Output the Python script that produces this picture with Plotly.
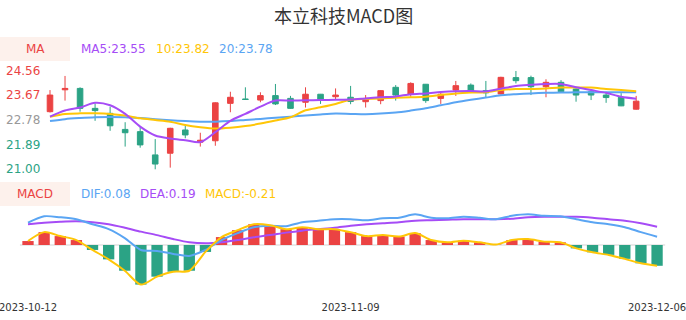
import plotly.graph_objects as go

# ---------------- data ----------------
dates = ["2023-10-12", "2023-10-13", "2023-10-16", "2023-10-17", "2023-10-18", "2023-10-19",
         "2023-10-20", "2023-10-23", "2023-10-24", "2023-10-25", "2023-10-26", "2023-10-27",
         "2023-10-30", "2023-10-31", "2023-11-01", "2023-11-02", "2023-11-03", "2023-11-06",
         "2023-11-07", "2023-11-08", "2023-11-09", "2023-11-10", "2023-11-13", "2023-11-14",
         "2023-11-15", "2023-11-16", "2023-11-17", "2023-11-20", "2023-11-21", "2023-11-22",
         "2023-11-23", "2023-11-24", "2023-11-27", "2023-11-28", "2023-11-29", "2023-11-30",
         "2023-12-01", "2023-12-04", "2023-12-05", "2023-12-06"]

opens = [23.08, 23.87, 23.92, 23.20, 23.02, 22.44, 22.36, 21.52, 21.58, 22.42,
         21.98, 22.03, 23.38, 23.54, 23.50, 23.66, 23.56, 23.42, 23.71, 23.62,
         23.60, 23.44, 23.48, 23.96, 23.71, 24.07, 23.56, 23.86, 24.04, 23.84,
         23.72, 24.31, 24.31, 23.98, 24.14, 23.90, 23.80, 23.68, 23.60, 23.17]
highs = [23.86, 24.37, 23.96, 23.38, 23.26, 22.70, 22.56, 22.09, 22.50, 22.62,
         22.32, 23.42, 23.80, 23.96, 23.78, 24.08, 23.65, 23.96, 23.72, 23.92,
         24.01, 23.68, 23.86, 24.04, 24.14, 24.08, 23.75, 24.19, 24.10, 24.19,
         24.34, 24.55, 24.38, 24.25, 24.22, 23.92, 23.82, 23.78, 23.75, 23.65]
lows = [23.05, 23.48, 23.08, 22.75, 22.39, 21.82, 21.78, 21.00, 21.06, 22.12,
        21.82, 21.85, 23.06, 23.52, 23.42, 23.32, 23.18, 23.23, 23.36, 23.50,
        23.35, 23.23, 23.35, 23.48, 23.62, 23.40, 23.36, 23.65, 23.75, 23.60,
        23.70, 24.10, 23.68, 23.60, 23.78, 23.44, 23.50, 23.40, 23.28, 23.15]
closes = [23.68, 23.92, 23.20, 23.12, 22.57, 22.32, 21.88, 21.19, 22.48, 22.24,
          22.05, 23.40, 23.60, 23.52, 23.66, 23.36, 23.20, 23.71, 23.53, 23.68,
          23.45, 23.56, 23.84, 23.68, 24.10, 23.48, 23.71, 24.02, 23.78, 23.76,
          24.32, 24.20, 23.98, 24.14, 23.80, 23.68, 23.68, 23.59, 23.29, 23.46]

ma5 = [22.90, 23.12, 23.23, 23.40, 23.31, 23.00, 22.54, 22.22, 22.11, 22.05,
       21.98, 22.34, 22.75, 23.00, 23.26, 23.48, 23.48, 23.49, 23.50, 23.51,
       23.52, 23.56, 23.60, 23.63, 23.71, 23.74, 23.79, 23.82, 23.83, 23.81,
       23.91, 24.01, 24.05, 24.08, 24.08, 23.96, 23.86, 23.76, 23.62, 23.55]
ma10 = [22.90, 23.00, 23.02, 23.02, 23.00, 22.94, 22.84, 22.78, 22.72, 22.60,
        22.52, 22.47, 22.50, 22.56, 22.65, 22.76, 22.88, 23.13, 23.24, 23.36,
        23.51, 23.54, 23.56, 23.58, 23.60, 23.62, 23.68, 23.74, 23.77, 23.78,
        23.86, 23.90, 23.90, 23.92, 23.95, 23.95, 23.95, 23.90, 23.86, 23.82]
ma20 = [22.74, 22.81, 22.85, 22.88, 22.89, 22.88, 22.85, 22.81, 22.77, 22.74,
        22.72, 22.72, 22.74, 22.78, 22.82, 22.86, 22.90, 22.94, 22.98, 23.01,
        23.00, 22.99, 23.01, 23.05, 23.12, 23.20, 23.31, 23.42, 23.51, 23.59,
        23.67, 23.71, 23.74, 23.76, 23.77, 23.78, 23.78, 23.78, 23.78, 23.78]

dif = [0.225, 0.29, 0.28, 0.26, 0.21, 0.16, 0.07, -0.05, -0.06, -0.09,
       -0.11, -0.05, 0.05, 0.12, 0.18, 0.195, 0.19, 0.23, 0.245, 0.26,
       0.26, 0.25, 0.27, 0.275, 0.31, 0.275, 0.27, 0.285, 0.275, 0.26,
       0.295, 0.31, 0.295, 0.29, 0.26, 0.23, 0.21, 0.18, 0.13, 0.084]
dea = [0.21, 0.225, 0.235, 0.24, 0.23, 0.21, 0.175, 0.135, 0.10, 0.06,
       0.027, 0.017, 0.027, 0.05, 0.078, 0.10, 0.125, 0.145, 0.16, 0.175,
       0.195, 0.21, 0.22, 0.23, 0.245, 0.25, 0.255, 0.26, 0.26, 0.26,
       0.265, 0.28, 0.285, 0.285, 0.285, 0.275, 0.26, 0.245, 0.22, 0.185]
macd = [0.04, 0.13, 0.09, 0.05, -0.05, -0.145, -0.26, -0.40, -0.32, -0.27,
        -0.26, -0.07, 0.08, 0.15, 0.21, 0.20, 0.16, 0.18, 0.16, 0.16,
        0.13, 0.09, 0.10, 0.085, 0.12, 0.05, 0.027, 0.044, 0.027, 0.005,
        0.05, 0.06, 0.034, 0.027, -0.034, -0.074, -0.10, -0.14, -0.185, -0.21]

price_ticks = [24.56, 23.67, 22.78, 21.89, 21.00]
x_tick_dates = [dates[0], dates[20], dates[39]]
title_text = "本立科技MACD图"
ma_legend = ["MA5:23.55", "10:23.82", "20:23.78"]
macd_legend = ["DIF:0.08", "DEA:0.19", "MACD:-0.21"]

# ---------------- style / geometry ----------------
W, H = 686, 320
RED = "#eb4343"
GREEN = "#2ba385"
PURPLE = "#a64cf6"
YELLOW = "#ffc607"
BLUE = "#5aa5f3"
BOX = "#fdf1ec"
FONT = "DejaVu Sans"

def py(px):
    return (H - px) / H

def px_x(px):
    return px / W

# top panel mapping
TOP_PX, BOT_PX = 62, 176
Y21, PPU = 169.3, 27.7
y_range = [21 + (Y21 - BOT_PX) / PPU, 21 + (Y21 - TOP_PX) / PPU]
# macd panel mapping
MTOP, MBOT, ZERO, MPPU = 205, 298, 245, 99.0
y2_range = [-(MBOT - ZERO) / MPPU, (ZERO - MTOP) / MPPU]
# x mappings
C0, CSTEP = 50, 15.03
B0, BSTEP = 28, 16.13
x_range = [-C0 / CSTEP, (W - C0) / CSTEP]
x2_range = [-B0 / BSTEP, (W - B0) / BSTEP]

fig = go.Figure()

fig.add_trace(go.Candlestick(
    x=dates, open=opens, high=highs, low=lows, close=closes,
    increasing=dict(line=dict(color=RED, width=1), fillcolor=RED),
    decreasing=dict(line=dict(color=GREEN, width=1), fillcolor=GREEN),
    whiskerwidth=0, xaxis="x", yaxis="y", showlegend=False, hoverinfo="skip"))

for vals, col in [(ma20, BLUE), (ma10, YELLOW), (ma5, PURPLE)]:
    fig.add_trace(go.Scatter(x=dates, y=vals, mode="lines",
                             line=dict(color=col, width=2, shape="spline", smoothing=0.8),
                             xaxis="x", yaxis="y", showlegend=False, hoverinfo="skip"))

fig.add_trace(go.Bar(x=dates, y=macd, width=0.7,
                     marker=dict(color=[RED if v >= 0 else GREEN for v in macd], line=dict(width=0)),
                     xaxis="x2", yaxis="y2", showlegend=False, hoverinfo="skip"))
for vals, col in [(dea, PURPLE), (dif, BLUE), (macd, YELLOW)]:
    fig.add_trace(go.Scatter(x=dates, y=vals, mode="lines",
                             line=dict(color=col, width=2, shape="spline", smoothing=0.8),
                             xaxis="x2", yaxis="y2", showlegend=False, hoverinfo="skip"))

shapes = [
    dict(type="rect", xref="paper", yref="paper", x0=0, x1=px_x(70), y0=py(61), y1=py(37),
         fillcolor=BOX, line=dict(width=0), layer="below"),
    dict(type="rect", xref="paper", yref="paper", x0=0, x1=px_x(70), y0=py(206), y1=py(182),
         fillcolor=BOX, line=dict(width=0), layer="below"),
    dict(type="line", xref="x2", yref="y2", x0=-0.5, x1=len(dates) - 0.5, y0=0, y1=0,
         line=dict(color="#e2e2e2", width=1.5), layer="below"),
]

ann = []
ann.append(dict(text=title_text, x=0.5, y=py(15), xref="paper", yref="paper",
                xanchor="center", yanchor="middle", showarrow=False,
                font=dict(family="Noto Sans CJK SC", size=18, color="#333333")))
tick_colors = [RED, RED, "#999999", GREEN, GREEN]
for v, c in zip(price_ticks, tick_colors):
    ann.append(dict(text=f"{v:.2f}", x=px_x(42), y=v, xref="paper", yref="y",
                    xanchor="right", yanchor="middle", showarrow=False,
                    font=dict(family=FONT, size=12, color=c)))
ann.append(dict(text="MA", x=px_x(35), y=py(49), xref="paper", yref="paper",
                xanchor="center", yanchor="middle", showarrow=False,
                font=dict(family=FONT, size=12, color=RED)))
for t, xp, c in zip(ma_legend, [79, 154, 216.5], [PURPLE, YELLOW, BLUE]):
    ann.append(dict(text=t, x=px_x(xp), y=py(49), xref="paper", yref="paper",
                    xanchor="left", yanchor="middle", showarrow=False,
                    font=dict(family=FONT, size=12, color=c)))
ann.append(dict(text="MACD", x=px_x(35), y=py(193.5), xref="paper", yref="paper",
                xanchor="center", yanchor="middle", showarrow=False,
                font=dict(family=FONT, size=12, color=RED)))
for t, xp, c in zip(macd_legend, [79, 138, 203], [BLUE, PURPLE, YELLOW]):
    ann.append(dict(text=t, x=px_x(xp), y=py(193.5), xref="paper", yref="paper",
                    xanchor="left", yanchor="middle", showarrow=False,
                    font=dict(family=FONT, size=12, color=c)))

fig.update_layout(
    width=W, height=H, margin=dict(l=0, r=0, t=0, b=0),
    paper_bgcolor="white", plot_bgcolor="white",
    boxgap=0.47,
    showlegend=False,
    xaxis=dict(domain=[0, 1], type="category", range=x_range, anchor="y",
               visible=False, rangeslider=dict(visible=False), fixedrange=True),
    yaxis=dict(domain=[py(BOT_PX), py(TOP_PX)], range=y_range, visible=False, fixedrange=True),
    xaxis2=dict(domain=[0, 1], type="category", range=x2_range, anchor="y2",
                tickmode="array", tickvals=x_tick_dates, ticktext=x_tick_dates,
                showgrid=False, zeroline=False, showline=False, ticks="",
                ticklabelstandoff=2,
                tickfont=dict(family=FONT, size=10, color="#333333"), fixedrange=True),
    yaxis2=dict(domain=[py(MBOT), py(MTOP)], range=y2_range, visible=False, fixedrange=True),
    shapes=shapes, annotations=ann,
)

fig.write_html("out.html", config={"displayModeBar": False, "staticPlot": True})
